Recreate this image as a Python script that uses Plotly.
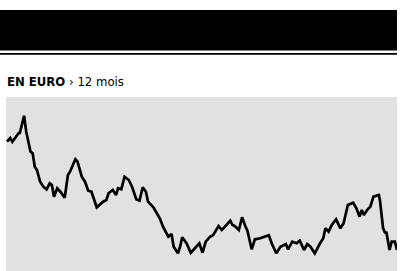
import plotly.graph_objects as go

# Day offsets over 12 months and closing prices (EUR)
jours = [0, 3, 5, 8, 11, 12, 16, 18, 22, 24, 26, 28, 31, 34, 37, 40, 42, 44, 47, 50,
         54, 57, 59, 64, 66, 70, 73, 76, 79, 84, 87, 90, 93, 95, 99, 102, 104, 107, 110, 114,
         117, 121, 124, 127, 130, 132, 137, 140, 143, 146, 149, 151, 154, 156, 160, 162, 164, 168, 172, 176,
         180, 183, 186, 190, 193, 198, 201, 204, 209, 211, 213, 217, 220, 223, 225, 229, 232, 237, 241, 245,
         248, 252, 256, 261, 263, 267, 271, 274, 278, 281, 284, 288, 293, 296, 298, 301, 304, 308, 312, 315,
         319, 324, 327, 330, 332, 334, 337, 340, 343, 348, 349, 352, 354, 355, 358, 360, 363, 365]
cours = [32.93, 33.30, 32.93, 33.43, 33.80, 33.80, 35.53, 33.93, 31.93, 31.77, 30.43, 30.10, 28.93, 28.43, 28.17, 28.77, 28.60, 27.43, 28.27, 27.93,
         27.33, 29.60, 29.93, 31.17, 30.93, 29.43, 28.93, 28.03, 27.93, 26.37, 26.70, 26.93, 27.10, 27.77, 28.10, 27.60, 28.27, 28.17, 29.43, 29.10,
         28.43, 27.17, 27.03, 28.37, 27.93, 26.93, 26.37, 25.77, 25.27, 24.43, 23.77, 23.43, 23.70, 22.43, 21.77, 22.43, 23.37, 22.77, 21.83, 22.27,
         22.77, 21.83, 22.93, 23.43, 23.60, 24.50, 24.10, 24.43, 25.03, 24.60, 24.50, 24.10, 25.37, 24.50, 24.03, 22.17, 23.17, 23.27, 23.43, 23.57,
         22.70, 21.77, 22.43, 22.70, 22.17, 22.93, 22.77, 23.03, 22.10, 22.70, 22.43, 21.77, 22.77, 23.27, 24.27, 23.93, 24.60, 25.17, 24.27, 24.77,
         26.60, 26.83, 26.27, 25.43, 26.10, 25.60, 26.10, 26.43, 27.43, 27.60, 27.10, 24.27, 23.77, 23.93, 22.10, 22.93, 22.93, 22.10]

titre_gras = "EN EURO"
titre_fin = " › 12 mois"

W, H = 402, 271

fig = go.Figure()
fig.add_trace(go.Scatter(x=jours, y=cours, mode="lines",
                         line=dict(color="#000000", width=2.7),
                         hoverinfo="skip", showlegend=False))

def py(p):
    return (H - p) / H

fig.update_layout(
    width=W, height=H,
    margin=dict(l=0, r=0, t=0, b=0),
    paper_bgcolor="#ffffff",
    plot_bgcolor="#e1e1e1",
    xaxis=dict(domain=[6 / W, 397 / W], range=[-365 / 390, 365],
               visible=False, fixedrange=True),
    yaxis=dict(domain=[0, py(97)], range=[20, 37.4],
               visible=False, fixedrange=True),
    shapes=[
        dict(type="rect", xref="paper", yref="paper",
             x0=0, x1=397 / W, y0=py(50.5), y1=py(10),
             fillcolor="#000000", line=dict(width=0), layer="below"),
        dict(type="rect", xref="paper", yref="paper",
             x0=0, x1=397 / W, y0=py(54.7), y1=py(53),
             fillcolor="#000000", line=dict(width=0), layer="below"),
    ],
    annotations=[
        dict(xref="paper", yref="paper", x=5 / W, y=py(90.5),
             xanchor="left", yanchor="bottom", showarrow=False,
             text="<b>" + titre_gras + "</b>" + titre_fin,
             font=dict(family="DejaVu Sans Condensed, sans-serif",
                       size=13, color="#000000")),
    ],
)

fig.write_html("out.html", config={"displayModeBar": False},
               post_script="document.body.style.margin='0';document.body.style.padding='0';")
